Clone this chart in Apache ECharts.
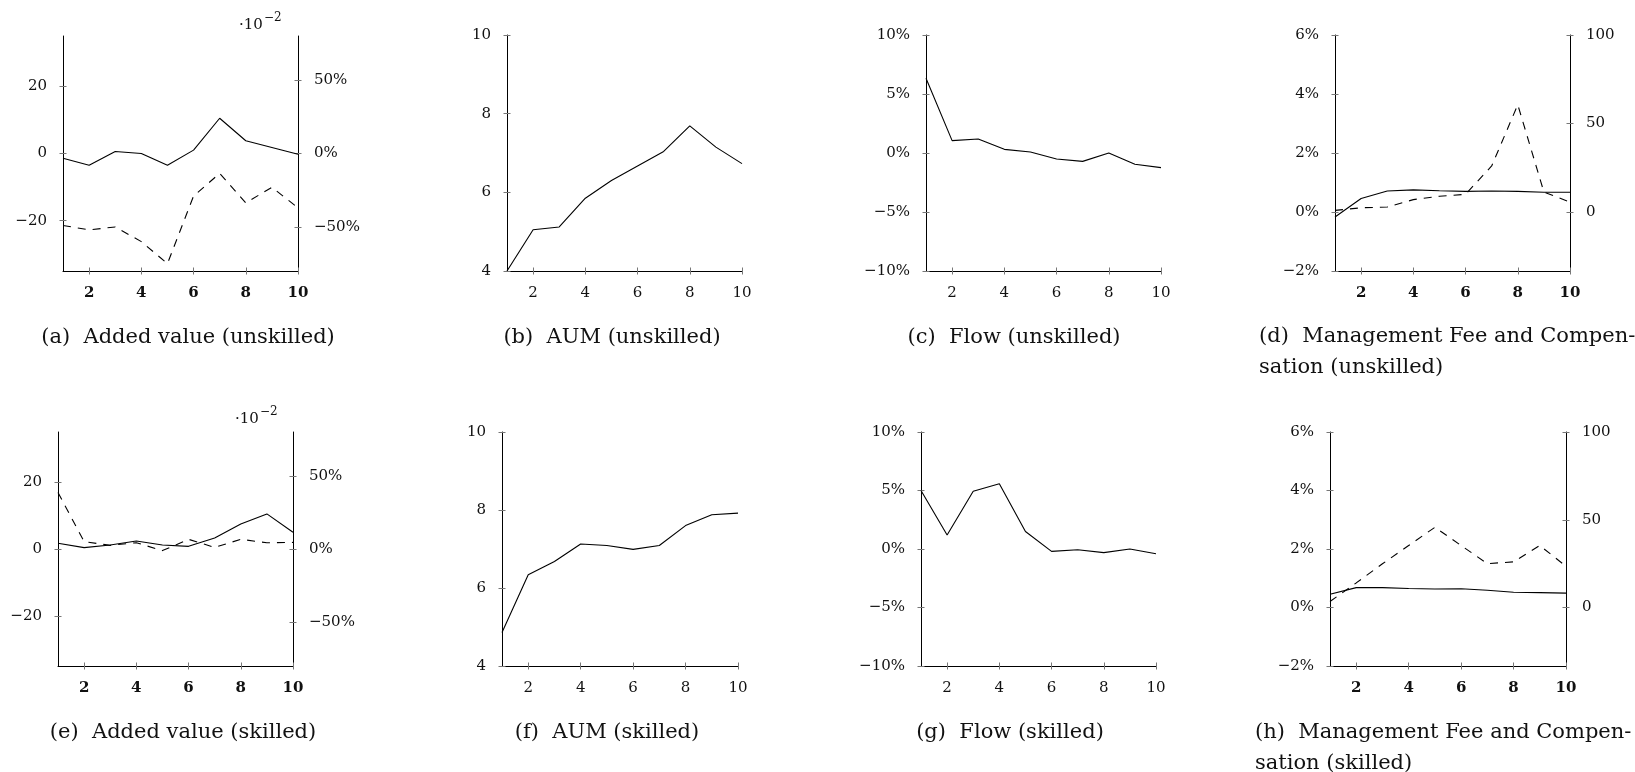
<!DOCTYPE html>
<html lang="en">
<head>
<meta charset="UTF-8">
<title>Fund panels</title>
<style>
  * { margin: 0; padding: 0; }
  body { background: #fff; }
  #chart { width: 1635px; height: 772px; }
</style>
<script src="https://cdn.jsdelivr.net/npm/echarts@6/dist/echarts.min.js"></script>
</head>
<body>
<div id="chart"></div>
<script>
// periods on the x axis
const periods = [1, 2, 3, 4, 5, 6, 7, 8, 9, 10];
const xTicks = [2, 4, 6, 8, 10];

// tick labels of the y axes
const addedLeftTicks = [-20, 0, 20];
const addedRightTicks = [-50, 0, 50];      // percent
const aumTicks = [4, 6, 8, 10];
const flowTicks = [-10, -5, 0, 5, 10];     // percent
const feeTicks = [-2, 0, 2, 4, 6];         // percent
const compTicks = [0, 50, 100];

// (a) unskilled
const addedUnskilled = [-1.4, -3.5, 0.6, 0, -3.5, 1.0, 10.5, 3.8, 1.8, -0.2];
const addedUnskilledPct = [-49, -52, -50, -60, -75, -29, -13.5, -33.6, -23, -37];
// (b)
const aumUnskilled = [4.0, 5.05, 5.12, 5.85, 6.3, 6.67, 7.04, 7.69, 7.15, 6.73];
// (c)
const flowUnskilled = [6.33, 1.05, 1.19, 0.31, 0.08, -0.51, -0.71, 0, -0.96, -1.24];
// (d)
const feeUnskilled = [-0.17, 0.46, 0.71, 0.75, 0.72, 0.70, 0.71, 0.70, 0.67, 0.67];
const compUnskilled = [0.9, 2.4, 2.8, 7.0, 8.9, 10.0, 26, 60.6, 11.3, 5.6];

// (e) skilled
const addedSkilled = [1.7, 0.4, 1.2, 2.4, 1.2, 0.8, 3.3, 7.5, 10.5, 5.0];
const addedSkilledPct = [38.6, 5, 2.5, 4.3, -1.1, 6.6, 1.1, 6.6, 4.3, 4.5];
// (f)
const aumSkilled = [4.86, 6.34, 6.68, 7.13, 7.09, 6.99, 7.09, 7.6, 7.88, 7.92];
// (g)
const flowSkilled = [5.0, 1.19, 4.94, 5.57, 1.5, -0.2, -0.06, -0.31, 0, -0.4];
// (h)
const feeSkilled = [0.45, 0.68, 0.68, 0.65, 0.63, 0.64, 0.59, 0.52, 0.51, 0.49];
const compSkilled = [3.4, 14, 24.9, 35.3, 45.7, 35.3, 25, 26, 35.3, 23.5];

const serif = 'DejaVu Serif';
const minus = v => (v < 0 ? '\u2212' + Math.abs(v) : String(v));
const pct = v => minus(v) + '%';

const grids = [], xAxes = [], yAxes = [], series = [], graphics = [];

function xAxisDef(g, bold, inner) {
  return {
    type: 'value', gridIndex: g, position: 'bottom', min: 1, max: 10,
    splitLine: { show: false },
    axisLine: { show: !inner, onZero: false, lineStyle: { color: '#000', width: 1 } },
    axisTick: { show: true, inside: inner, length: 3.5, customValues: xTicks, lineStyle: { color: '#777' } },
    axisLabel: { show: !inner, customValues: xTicks, margin: 15, fontFamily: serif, fontSize: 15,
                 fontWeight: bold ? 'bold' : 'normal', color: '#111' }
  };
}

function yAxisDef(g, pos, ax, inner) {
  return {
    type: 'value', gridIndex: g, position: pos, min: ax.min, max: ax.max,
    splitLine: { show: false },
    axisLine: { show: !inner, onZero: false, lineStyle: { color: '#000', width: 1 } },
    axisTick: { show: true, inside: inner, length: 3.5, customValues: ax.ticks, lineStyle: { color: '#777' } },
    axisLabel: { show: !inner, customValues: ax.ticks, formatter: ax.fmt, margin: 16,
                 fontFamily: serif, fontSize: 15, color: '#111' }
  };
}

function addY(g, pos, ax) {
  yAxes.push(yAxisDef(g, pos, ax, false), yAxisDef(g, pos, ax, true));
  return yAxes.length - 2;
}

function line(xi, yi, vals, dashed) {
  return {
    type: 'line', xAxisIndex: xi, yAxisIndex: yi, showSymbol: false, animation: false,
    data: periods.map((p, i) => [p, vals[i]]),
    lineStyle: { color: '#000', width: 1.1, type: dashed ? [8, 7] : 'solid' }
  };
}

function addPanel(box, p) {
  const g = grids.length;
  grids.push({ left: box[0], top: box[1], width: box[2], height: box[3] });
  xAxes.push(xAxisDef(g, p.boldX, false), xAxisDef(g, p.boldX, true));
  const xi = xAxes.length - 2;
  const li = addY(g, 'left', p.left);
  series.push(line(xi, li, p.solid, false));
  if (p.right) {
    const ri = addY(g, 'right', p.right);
    series.push(line(xi, ri, p.dashed, true));
  }
}

function caption(x, y, text, align) {
  graphics.push({
    type: 'text', x: x, y: y,
    style: { text: text, fill: '#111', font: '21px "' + serif + '"', align: align || 'center',
             verticalAlign: 'middle', lineHeight: 31 }
  });
}

function expLabel(x, y) {
  graphics.push({ type: 'text', x: x, y: y,
    style: { text: '\u00b710', fill: '#111', font: '15px "' + serif + '"', verticalAlign: 'middle' } });
  graphics.push({ type: 'text', x: x + 25, y: y - 7,
    style: { text: '\u22122', fill: '#111', font: '12px "' + serif + '"', verticalAlign: 'middle' } });
}

const addedL = { min: -35, max: 35, ticks: addedLeftTicks, fmt: minus };
const addedR = { min: -80, max: 80, ticks: addedRightTicks, fmt: pct };
const aumAx = { min: 4, max: 10, ticks: aumTicks, fmt: minus };
const flowAx = { min: -10, max: 10, ticks: flowTicks, fmt: pct };
const feeAx = { min: -2, max: 6, ticks: feeTicks, fmt: pct };
const compAx = { min: -100 / 3, max: 100, ticks: compTicks, fmt: minus };

// top row: unskilled
addPanel([63, 36, 235, 235], { boldX: true, left: addedL, solid: addedUnskilled, right: addedR, dashed: addedUnskilledPct });
addPanel([507, 35, 235, 236], { boldX: false, left: aumAx, solid: aumUnskilled });
addPanel([926, 35, 235, 236], { boldX: false, left: flowAx, solid: flowUnskilled });
addPanel([1335, 35, 235, 236], { boldX: true, left: feeAx, solid: feeUnskilled, right: compAx, dashed: compUnskilled });

// bottom row: skilled
addPanel([58, 432, 235, 234], { boldX: true, left: addedL, solid: addedSkilled, right: addedR, dashed: addedSkilledPct });
addPanel([502, 432, 236, 234], { boldX: false, left: aumAx, solid: aumSkilled });
addPanel([921, 432, 235, 234], { boldX: false, left: flowAx, solid: flowSkilled });
addPanel([1330, 432, 236, 234], { boldX: true, left: feeAx, solid: feeSkilled, right: compAx, dashed: compSkilled });

expLabel(239, 25);
expLabel(235, 419);

caption(188, 338, '(a)  Added value (unskilled)');
caption(612, 338, '(b)  AUM (unskilled)');
caption(1014, 338, '(c)  Flow (unskilled)');
caption(1259, 352, '(d)  Management Fee and Compen-\nsation (unskilled)', 'left');
caption(183, 733, '(e)  Added value (skilled)');
caption(607, 733, '(f)  AUM (skilled)');
caption(1010, 733, '(g)  Flow (skilled)');
caption(1255, 748, '(h)  Management Fee and Compen-\nsation (skilled)', 'left');

const chart = echarts.init(document.getElementById('chart'), null, { renderer: 'canvas' });
chart.setOption({
  animation: false,
  backgroundColor: '#fff',
  grid: grids,
  xAxis: xAxes,
  yAxis: yAxes,
  series: series,
  graphic: graphics
});
</script>
</body>
</html>
